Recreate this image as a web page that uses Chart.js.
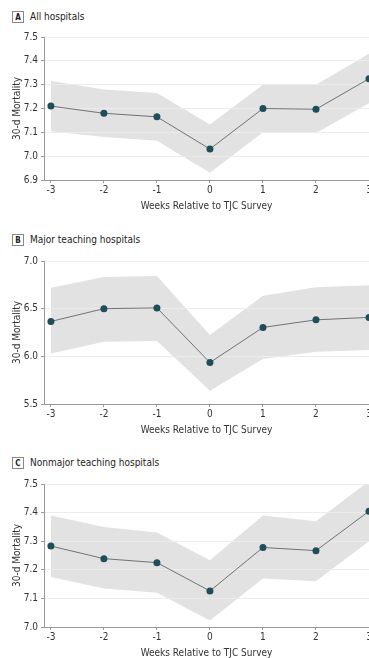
<!DOCTYPE html>
<html>
<head>
<meta charset="utf-8">
<script src="https://cdn.jsdelivr.net/npm/chart.js@4/dist/chart.umd.min.js"></script>
<style>
  html, body { margin: 0; padding: 0; background: #fff; overflow: hidden; }
  body { width: 369px; height: 658px; position: relative; font-family: "Liberation Sans Narrow", "DejaVu Sans Condensed", Roboto, sans-serif; }
  .panel { position: absolute; left: 0; width: 380px; height: 224px; }
  .head { position: absolute; left: 12px; font-size: 10px; color: #222; white-space: nowrap; }
  .box { display: inline-block; width: 12px; height: 12px; border: 1px solid #888; text-align: center;
         font-size: 8px; font-weight: bold; line-height: 11px; margin-right: 6px; vertical-align: middle; box-sizing: border-box; }
</style>
</head>
<body>
<div class="head" style="top:11px"><span class="box">A</span>All hospitals</div>
<div class="panel" style="top:0px"><canvas id="chartA"></canvas></div>
<div class="head" style="top:234px"><span class="box">B</span>Major teaching hospitals</div>
<div class="panel" style="top:224px"><canvas id="chartB"></canvas></div>
<div class="head" style="top:457px"><span class="box">C</span>Nonmajor teaching hospitals</div>
<div class="panel" style="top:447px"><canvas id="chartC"></canvas></div>
<script>
// veckor relativt TJC-besöket
const weeks = [-3, -2, -1, 0, 1, 2, 3];

// A: alla sjukhus
const allMean  = [7.21, 7.18, 7.165, 7.03, 7.20, 7.197, 7.325];
const allUpper = [7.315, 7.28, 7.265, 7.133, 7.30, 7.30, 7.43];
const allLower = [7.105, 7.08, 7.065, 6.93, 7.10, 7.097, 7.222];
const allTicks = [6.9, 7.0, 7.1, 7.2, 7.3, 7.4, 7.5];

// B: större undervisningssjukhus
const majorMean  = [6.366, 6.50, 6.508, 5.935, 6.303, 6.383, 6.408];
const majorUpper = [6.72, 6.833, 6.843, 6.224, 6.635, 6.725, 6.746];
const majorLower = [6.03, 6.153, 6.16, 5.638, 5.972, 6.048, 6.066];
const majorTicks = [5.5, 6.0, 6.5, 7.0];

// C: övriga undervisningssjukhus
const nonMean  = [7.283, 7.239, 7.225, 7.126, 7.278, 7.267, 7.405];
const nonUpper = [7.39, 7.35, 7.33, 7.233, 7.39, 7.37, 7.51];
const nonLower = [7.175, 7.135, 7.12, 7.023, 7.17, 7.16, 7.30];
const nonTicks = [7.0, 7.1, 7.2, 7.3, 7.4, 7.5];

const FONT = '"Liberation Sans Narrow", "DejaVu Sans Condensed", Roboto, sans-serif';
const pts = vals => vals.map((v, i) => ({ x: weeks[i], y: v }));

function makeChart(id, mean, upper, lower, yTicks) {
    const ctx = document.getElementById(id).getContext('2d');
    return new Chart(ctx, {
        type: 'line',
        data: {
            datasets: [
                { data: pts(upper), fill: '+1', backgroundColor: '#e2e2e2', borderWidth: 0, pointRadius: 0, tension: 0, order: 2 },
                { data: pts(lower), fill: false, borderWidth: 0, pointRadius: 0, tension: 0, order: 3 },
                {
                    data: pts(mean), fill: false, borderColor: '#555', borderWidth: 0.8, order: 1,
                    pointRadius: 3.5, pointBackgroundColor: '#1e4e5a', pointBorderWidth: 0, tension: 0
                }
            ]
        },
        options: {
            responsive: false,
            animation: false,
            events: [],
            layout: { padding: { top: 37, right: 11, left: 0, bottom: 0 } },
            plugins: {
                legend: { display: false },
                tooltip: { enabled: false },
                filler: { drawTime: 'beforeDraw' } // bandet under rutnätet
            },
            scales: {
                x: {
                    type: 'linear',
                    min: -3.13,
                    max: 3,
                    afterBuildTicks: s => { s.ticks = weeks.map(v => ({ value: v })); },
                    afterFit: s => { s.height = 44; },
                    grid: { drawOnChartArea: false, drawTicks: true, tickLength: 3, color: '#999' },
                    border: { color: '#999', width: 1 },
                    ticks: { color: '#333', font: { family: FONT, size: 10 }, padding: 1, maxRotation: 0 },
                    title: { display: true, text: 'Weeks Relative to TJC Survey', color: '#333',
                             font: { family: FONT, size: 10 }, padding: { top: 0, bottom: 12 } }
                },
                y: {
                    min: yTicks[0],
                    max: yTicks[yTicks.length - 1],
                    afterBuildTicks: s => { s.ticks = yTicks.map(v => ({ value: v })); },
                    afterFit: s => { s.width = 44; },
                    grid: { color: '#ececec', tickColor: '#999', tickLength: 3 },
                    border: { color: '#999', width: 1 },
                    ticks: { color: '#333', font: { family: FONT, size: 10 }, padding: 3,
                             callback: v => v.toFixed(1) },
                    title: { display: true, text: '30-d Mortality', color: '#333',
                             font: { family: FONT, size: 10 }, padding: { top: 11, bottom: 0 } }
                }
            }
        }
    });
}

document.querySelectorAll('canvas').forEach(c => { c.width = 380; c.height = 180 + 44; });
makeChart('chartA', allMean, allUpper, allLower, allTicks);
makeChart('chartB', majorMean, majorUpper, majorLower, majorTicks);
makeChart('chartC', nonMean, nonUpper, nonLower, nonTicks);
</script>
</body>
</html>
